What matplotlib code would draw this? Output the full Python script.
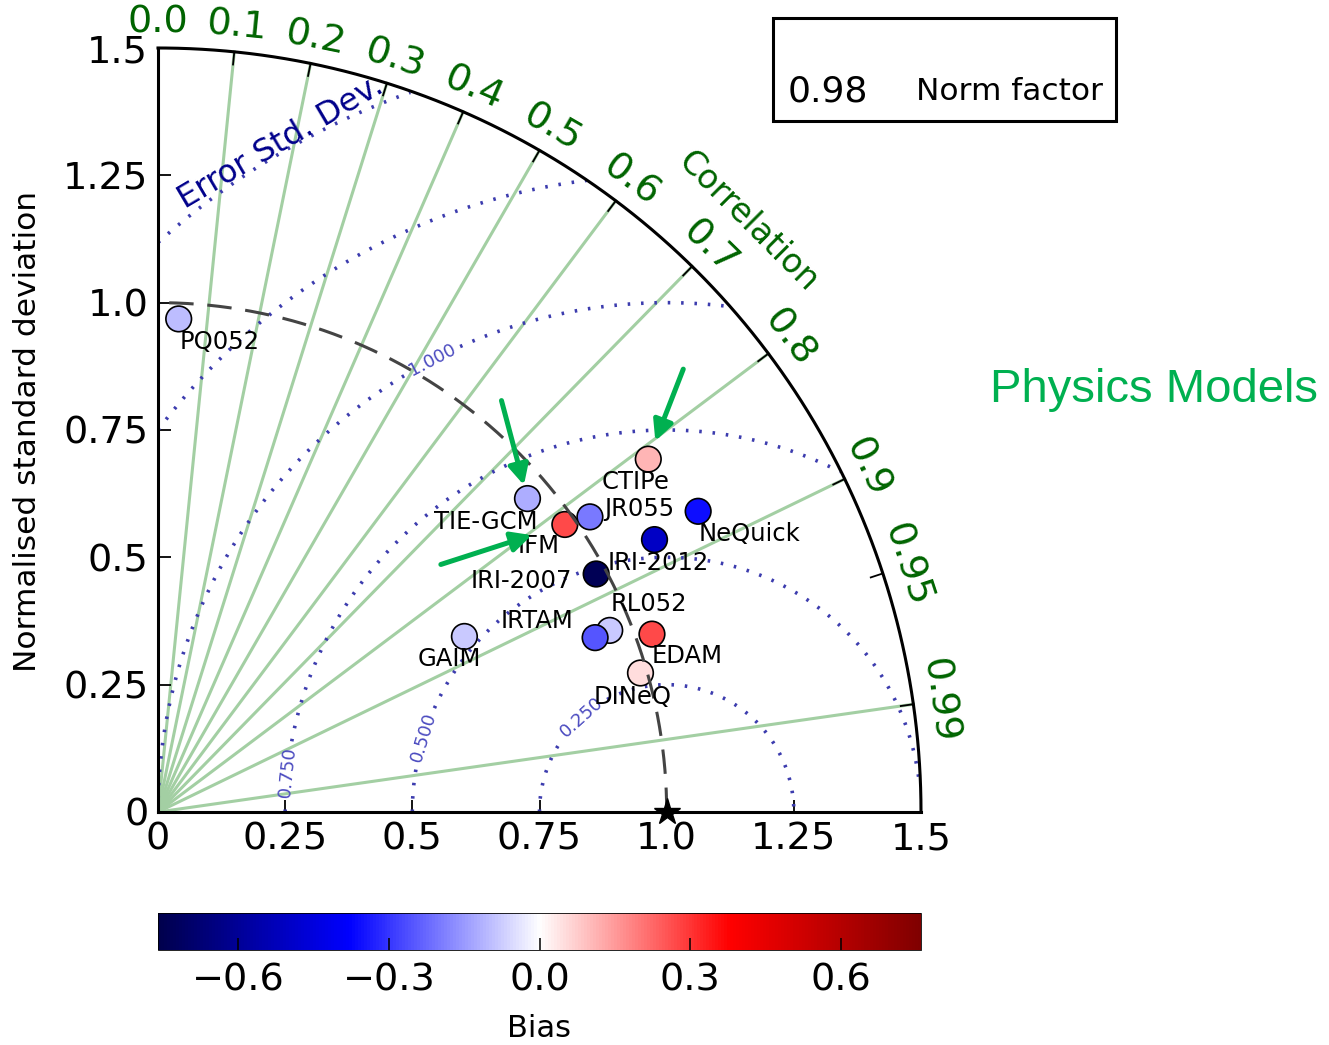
import numpy as np
import matplotlib.pyplot as plt
from matplotlib.colors import Normalize
from matplotlib.cm import ScalarMappable
from matplotlib.patches import Rectangle

# normalised Taylor statistics
models = ["PQ052", "GAIM", "TIE-GCM", "CTIPe", "IFM", "JR055", "NeQuick",
          "IRI-2012", "IRI-2007", "RL052", "IRTAM", "EDAM", "DINeQ"]
std_dev = [0.969, 0.694, 0.952, 1.187, 0.979, 1.028, 1.215,
           1.113, 0.980, 0.957, 0.925, 1.032, 0.987]
correlation = [0.042, 0.868, 0.763, 0.812, 0.817, 0.826, 0.874,
               0.877, 0.879, 0.928, 0.929, 0.941, 0.961]
bias = [-0.10, -0.08, -0.12, 0.11, 0.27, -0.20, -0.36,
        -0.50, -0.74, -0.08, -0.25, 0.27, 0.05]

ref_std = 1.0
norm_factor = 0.98
rms_levels = [0.25, 0.5, 0.75, 1.0, 1.25, 1.5]
corr_lines = [0.1, 0.2, 0.3, 0.4, 0.5, 0.6, 0.7, 0.8, 0.9, 0.99]
corr_ticks = [0.0, 0.1, 0.2, 0.3, 0.4, 0.5, 0.6, 0.7, 0.8, 0.9, 0.95, 0.99]
corr_tick_labels = ["0.0", "0.1", "0.2", "0.3", "0.4", "0.5", "0.6",
                    "0.7", "0.8", "0.9", "0.95", "0.99"]
std_ticks = [0, 0.25, 0.5, 0.75, 1.0, 1.25, 1.5]
std_tick_labels = ["0", "0.25", "0.5", "0.75", "1.0", "1.25", "1.5"]
bias_ticks = [-0.6, -0.3, 0.0, 0.3, 0.6]

# label placement (pixels from marker centre, text left edge)
label_offsets = {"PQ052": (1, -23), "GAIM": (-47, -23), "TIE-GCM": (-93, -23),
                 "CTIPe": (-47, -23), "IFM": (-47, -22), "JR055": (14, 8),
                 "NeQuick": (0, -23), "IRI-2012": (-47, -23), "IRI-2007": (-126, -7),
                 "RL052": (1, 26), "IRTAM": (-94, 17), "EDAM": (0, -22),
                 "DINeQ": (-47, -24)}
# highlighted models: (tail offset px, shrink pt)
arrows = {"TIE-GCM": ((-26, 98), 10), "CTIPe": ((35, 90), 14), "IFM": ((-124, -40), 25)}

W, H = 1329, 1045
fig = plt.figure(figsize=(W / 100, H / 100), dpi=100)
ax = fig.add_axes([158 / W, 1 - 812 / H, 763 / W, 764 / H])
rmax = 1.5
green = '#00b050'

# correlation rays
for c in corr_lines:
    t = np.arccos(c)
    ax.plot([0, rmax * np.cos(t)], [0, rmax * np.sin(t)], color='#a3cfa3', lw=2.2, zorder=1)

# centred RMS difference contours
gx, gy = np.meshgrid(np.linspace(0, rmax, 500), np.linspace(0, rmax, 500))
rms = np.sqrt((gx - ref_std) ** 2 + gy ** 2)
rms = np.ma.masked_where(np.hypot(gx, gy) > rmax, rms)
cs = ax.contour(gx, gy, rms, levels=rms_levels, colors='#3c3cae', linewidths=2.6, zorder=2)
ax.clabel(cs, levels=rms_levels[:4], fmt='%.3f', fontsize=13, inline=True, colors='#4b4bc0',
          manual=[(0.835, 0.185), (0.525, 0.147), (0.257, 0.079), (0.540, 0.888)])
cs.set_linestyle((0, (0.7, 3.0)))

# outer arc and correlation ticks
th = np.linspace(0, np.pi / 2, 300)
ax.plot(rmax * np.cos(th), rmax * np.sin(th), color='k', lw=2.2, clip_on=False, zorder=4)
for c, lab in zip(corr_ticks, corr_tick_labels):
    t = np.arccos(c)
    ax.plot([1.475 * np.cos(t), rmax * np.cos(t)], [1.475 * np.sin(t), rmax * np.sin(t)],
            color='k', lw=1.3, zorder=4)
    ax.text(1.55 * np.cos(t), 1.55 * np.sin(t), lab, rotation=np.degrees(t) - 90,
            rotation_mode='anchor', ha='center', va='center', fontsize=27.5, color='darkgreen')
ax.text(1.641 * np.cos(np.pi / 4), 1.641 * np.sin(np.pi / 4), 'Correlation', rotation=-45,
        rotation_mode='anchor', ha='center', va='center', fontsize=24, color='darkgreen')
ax.text(0.242, 1.314, 'Error Std. Dev.', rotation=30.5, rotation_mode='anchor',
        ha='center', va='center', fontsize=23, color='darkblue')

# reference std arc and point
ax.plot(ref_std * np.cos(th), ref_std * np.sin(th), color='#444444', lw=2.2,
        ls=(0, (8, 4.5)), zorder=4)
ax.plot(ref_std, 0, marker='*', ms=20, color='k', clip_on=False, zorder=6)

# models
norm = Normalize(vmin=-0.76, vmax=0.76)
t_mod = np.arccos(correlation)
xs = np.array(std_dev) * np.cos(t_mod)
ys = np.array(std_dev) * np.sin(t_mod)
ax.scatter(xs, ys, c=bias, cmap='seismic', norm=norm, s=340, edgecolors='k',
           linewidths=1.2, zorder=3, clip_on=False)
for name, x, y in zip(models, xs, ys):
    dx, dy = label_offsets[name]
    ax.annotate(name, (x, y), xytext=(dx, dy), textcoords='offset pixels',
                ha='left', va='center', fontsize=17.5, zorder=5)
    if name in arrows:
        (ax_, ay_), shrink = arrows[name]
        ax.annotate('', xy=(x, y), xytext=(ax_, ay_), textcoords='offset pixels',
                    arrowprops=dict(arrowstyle='-|>', color=green, lw=3.6,
                                    mutation_scale=30, shrinkA=0, shrinkB=shrink),
                    zorder=7)

ax.set_xlim(0, rmax)
ax.set_ylim(0, rmax)
ax.set_xticks(std_ticks)
ax.set_xticklabels(std_tick_labels)
ax.set_yticks(std_ticks)
ax.set_yticklabels(std_tick_labels)
ax.tick_params(direction='in', length=9, width=1.3, labelsize=27.5, pad=7)
for s in ['top', 'right']:
    ax.spines[s].set_visible(False)
for s in ['left', 'bottom']:
    ax.spines[s].set_linewidth(2.2)
fig.text(28 / W, 1 - 431 / H, 'Normalised standard deviation', rotation=90,
         ha='center', va='center', fontsize=22.5)

# colourbar for bias
cax = fig.add_axes([158 / W, 1 - 950 / H, 763 / W, 37 / H])
cb = fig.colorbar(ScalarMappable(norm=norm, cmap='seismic'), cax=cax,
                  orientation='horizontal', ticks=bias_ticks)
cax.tick_params(direction='in', length=9, width=1.1, labelsize=27.5, pad=9)
cb.outline.set_linewidth(0.6)
cb.set_label('Bias', fontsize=22, labelpad=11)

# norm factor box
fig.add_artist(Rectangle((773 / W, 1 - 121 / H), 343 / W, 103 / H, transform=fig.transFigure,
                         fill=False, lw=2.2, edgecolor='k'))
fig.text(788 / W, 1 - 91 / H, '%.2f' % norm_factor, fontsize=26, va='center')
fig.text(916 / W, 1 - 91 / H, 'Norm factor', fontsize=22.5, va='center')

fig.text(990 / W, 1 - 390 / H, 'Physics Models', fontsize=34, color=green,
         family=['Liberation Sans', 'DejaVu Sans'], va='center')

fig.savefig('out.png', dpi=100)
